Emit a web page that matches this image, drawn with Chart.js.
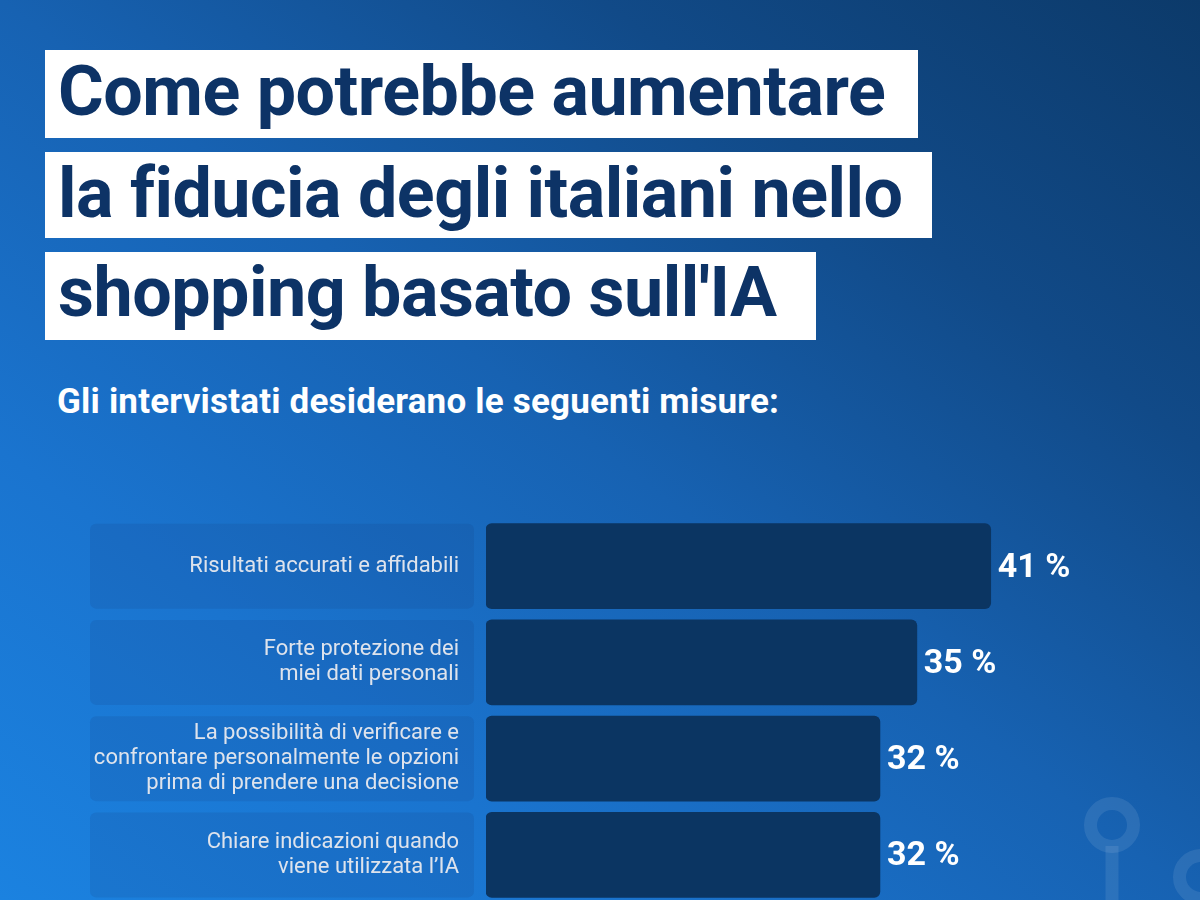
<!DOCTYPE html>
<html>
<head>
<meta charset="utf-8">
<script src="https://cdn.jsdelivr.net/npm/chart.js@4.4.1/dist/chart.umd.min.js"></script>
<style>
  html, body { margin: 0; padding: 0; }
  body {
    width: 1200px; height: 900px; overflow: hidden; position: relative;
    background: linear-gradient(to top right, #1b82e0 0%, #1a74cf 25%, #1762b2 50%, #114a88 75%, #0c3a6a 100%);
    font-family: Roboto, "Noto Sans", sans-serif;
  }
  .tbox {
    position: absolute; left: 45px; background: #ffffff; color: #0d3366;
    font-weight: 700; font-size: 70px; letter-spacing: -0.5px; box-sizing: border-box; padding-left: 13px;
    white-space: nowrap;
  }
  #sub {
    position: absolute; left: 57px; top: 382px; color: #ffffff; font-weight: 700;
    font-size: 35px; line-height: 40px; letter-spacing: 0.2px; white-space: nowrap;
  }
  #deco { position: absolute; left: 0; top: 0; }
  #chartWrap { position: absolute; left: 0; top: 508px; width: 1200px; height: 400px; }
</style>
</head>
<body>
<svg id="deco" width="1200" height="900">
  <g fill="none" stroke="rgba(255,255,255,0.09)" stroke-width="13">
    <circle cx="1112" cy="825" r="21.5"/>
    <line x1="1112" y1="846" x2="1112" y2="900"/>
    <circle cx="1201" cy="877" r="21.5"/>
  </g>
</svg>
<div class="tbox" style="top:50px;width:873px;height:88px;line-height:83px;">Come potrebbe aumentare</div>
<div class="tbox" style="top:152px;width:887px;height:86px;line-height:82px;">la fiducia degli italiani nello</div>
<div class="tbox" style="top:252px;width:771px;height:88px;line-height:81px;">shopping basato sull'IA</div>
<div id="sub">Gli intervistati desiderano le seguenti misure:</div>
<div id="chartWrap"><canvas id="c" width="1200" height="400"></canvas></div>
<script>
const categories = [
  ["Risultati accurati e affidabili"],
  ["Forte protezione dei", "miei dati personali"],
  ["La possibilità di verificare e", "confrontare personalmente le opzioni", "prima di prendere una decisione"],
  ["Chiare indicazioni quando", "viene utilizzata l’IA"]
];
const values = [41, 35, 32, 32];
const valueLabels = ["41 %", "35 %", "32 %", "32 %"];

const labelBoxes = {
  id: 'labelBoxes',
  beforeDatasetsDraw(chart) {
    const ctx = chart.ctx;
    const meta = chart.getDatasetMeta(0);
    ctx.save();
    ctx.fillStyle = 'rgba(20,60,120,0.14)';
    meta.data.forEach(bar => {
      const p = bar.getProps(['y', 'height'], true);
      ctx.beginPath();
      ctx.roundRect(90, p.y - p.height / 2, 384, p.height, 6);
      ctx.fill();
    });
    ctx.restore();
  },
  afterDatasetsDraw(chart) {
    const ctx = chart.ctx;
    const meta = chart.getDatasetMeta(0);
    ctx.save();
    ctx.fillStyle = '#ffffff';
    ctx.font = '700 34px Roboto';
    ctx.textAlign = 'left';
    ctx.textBaseline = 'middle';
    meta.data.forEach((bar, i) => {
      const p = bar.getProps(['x', 'y'], true);
      ctx.fillText(valueLabels[i], p.x + 7, p.y + 2);
    });
    ctx.restore();
  }
};

new Chart(document.getElementById('c'), {
  type: 'bar',
  data: {
    labels: categories,
    datasets: [{
      data: values,
      backgroundColor: '#0b3562',
      borderRadius: 6,
      borderSkipped: false,
      barThickness: 85
    }]
  },
  options: {
    indexAxis: 'y',
    responsive: false,
    animation: false,
    layout: { padding: { top: 10, bottom: 5, left: 0, right: 0 } },
    plugins: { legend: { display: false }, tooltip: { enabled: false } },
    scales: {
      x: { display: false, min: 0, max: 58 },
      y: {
        grid: { display: false, drawTicks: false, drawOnChartArea: false },
        border: { display: false },
        ticks: {
          color: '#ffffff',
          padding: 27,
          font: { family: 'Roboto', size: 22, weight: '400', lineHeight: 1.14 }
        },
        afterFit(scale) { scale.width = 486; scale.paddingTop = 0; scale.paddingBottom = 0; }
      }
    }
  },
  plugins: [labelBoxes]
});
</script>
</body>
</html>
